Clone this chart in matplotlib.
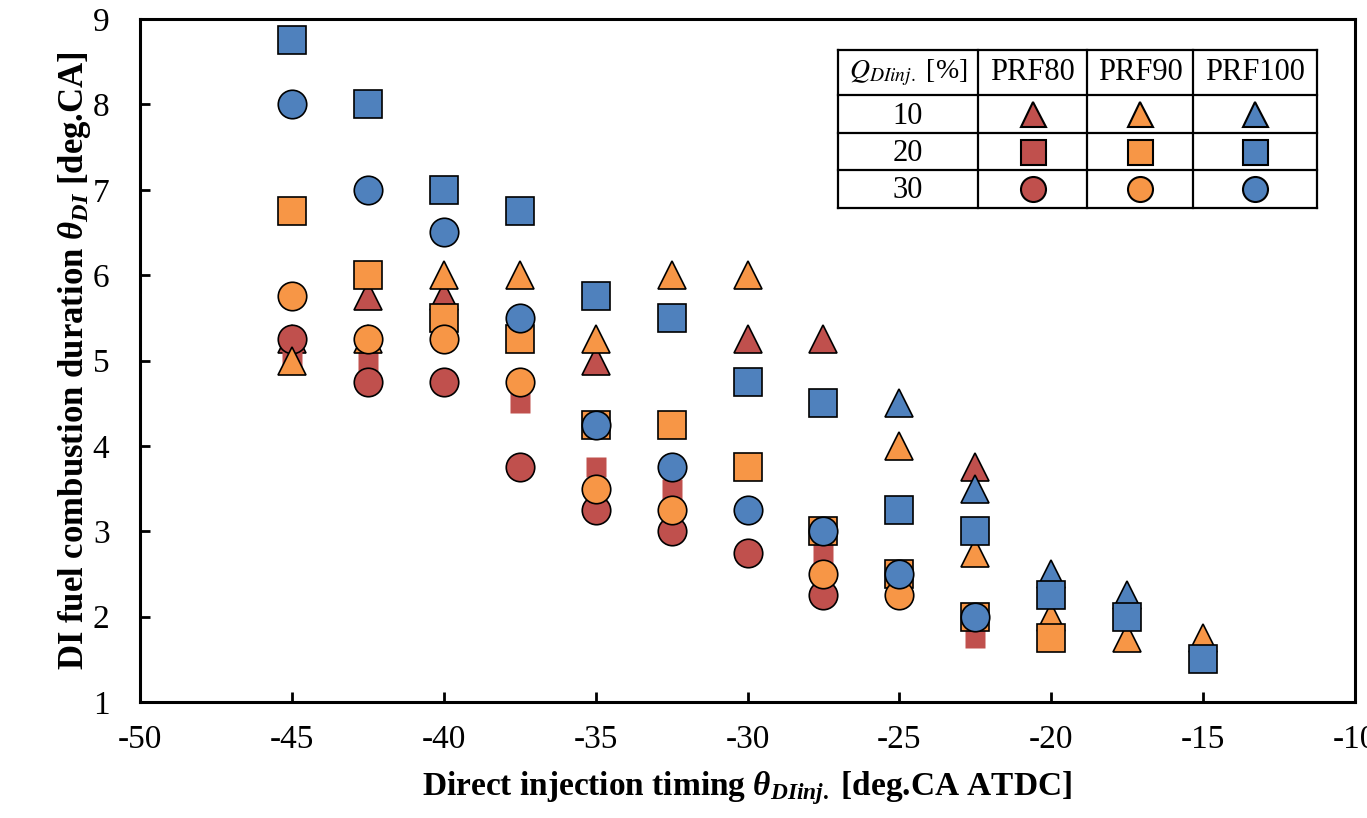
import matplotlib
matplotlib.use('Agg')
import matplotlib.pyplot as plt

plt.rcParams['font.family'] = 'Liberation Serif'
plt.rcParams['axes.unicode_minus'] = False
plt.rcParams['mathtext.fontset'] = 'custom'
plt.rcParams['mathtext.rm'] = 'Liberation Serif:bold'
plt.rcParams['mathtext.it'] = 'Liberation Serif:bold:italic'
plt.rcParams['mathtext.bf'] = 'Liberation Serif:bold'

# PRF80 (red)
x_prf80_q10 = [-45, -42.5, -40, -35, -30, -27.5, -22.5]
y_prf80_q10 = [5.25, 5.75, 5.75, 5.0, 5.25, 5.25, 3.75]
x_prf80_q20 = [-45, -42.5, -37.5, -35, -32.5, -27.5, -22.5]
y_prf80_q20 = [5.0, 5.0, 4.5, 3.75, 3.5, 2.75, 1.75]
x_prf80_q30 = [-45, -42.5, -40, -37.5, -35, -32.5, -30, -27.5]
y_prf80_q30 = [5.25, 4.75, 4.75, 3.75, 3.25, 3.0, 2.75, 2.25]

# PRF90 (orange)
x_prf90_q10 = [-45, -42.5, -40, -37.5, -35, -32.5, -30, -25, -22.5, -20, -17.5, -15]
y_prf90_q10 = [5.0, 5.25, 6.0, 6.0, 5.25, 6.0, 6.0, 4.0, 2.75, 2.0, 1.75, 1.75]
x_prf90_q20 = [-45, -42.5, -40, -37.5, -35, -32.5, -30, -27.5, -25, -22.5, -20]
y_prf90_q20 = [6.75, 6.0, 5.5, 5.25, 4.25, 4.25, 3.75, 3.0, 2.5, 2.0, 1.75]
x_prf90_q30 = [-45, -42.5, -40, -37.5, -35, -32.5, -27.5, -25]
y_prf90_q30 = [5.75, 5.25, 5.25, 4.75, 3.5, 3.25, 2.5, 2.25]

# PRF100 (blue)
x_prf100_q10 = [-25, -22.5, -20, -17.5]
y_prf100_q10 = [4.5, 3.5, 2.5, 2.25]
x_prf100_q20 = [-45, -42.5, -40, -37.5, -35, -32.5, -30, -27.5, -25, -22.5, -20, -17.5, -15]
y_prf100_q20 = [8.75, 8.0, 7.0, 6.75, 5.75, 5.5, 4.75, 4.5, 3.25, 3.0, 2.25, 2.0, 1.5]
x_prf100_q30 = [-45, -42.5, -40, -37.5, -35, -32.5, -30, -27.5, -25, -22.5]
y_prf100_q30 = [8.0, 7.0, 6.5, 5.5, 4.25, 3.75, 3.25, 3.0, 2.5, 2.0]

fuels = ['PRF80', 'PRF90', 'PRF100']
q_levels = ['10', '20', '30']
colors = {'PRF80': '#C0504D', 'PRF90': '#F79646', 'PRF100': '#4F81BD'}
markers = {'10': '^', '20': 's', '30': 'o'}

series = [
    ('PRF80', '10', x_prf80_q10, y_prf80_q10),
    ('PRF80', '20', x_prf80_q20, y_prf80_q20),
    ('PRF80', '30', x_prf80_q30, y_prf80_q30),
    ('PRF90', '10', x_prf90_q10, y_prf90_q10),
    ('PRF90', '20', x_prf90_q20, y_prf90_q20),
    ('PRF90', '30', x_prf90_q30, y_prf90_q30),
    ('PRF100', '10', x_prf100_q10, y_prf100_q10),
    ('PRF100', '20', x_prf100_q20, y_prf100_q20),
    ('PRF100', '30', x_prf100_q30, y_prf100_q30),
]

W, H = 1367, 818
fig = plt.figure(figsize=(W / 100, H / 100), dpi=100)
ax = fig.add_axes([140 / W, (H - 702) / H, (1355 - 140) / W, (702 - 19) / H])

for fuel, q, xs, ys in series:
    if fuel == 'PRF80' and q == '20':
        # red squares are drawn smaller and without outline
        ax.plot(xs, ys, ls='none', marker='s', ms=15, mfc=colors[fuel], mec='none')
    else:
        ax.plot(xs, ys, ls='none', marker=markers[q], ms=20.5, mfc=colors[fuel],
                mec='black', mew=1.2)

ax.set_xlim(-50, -10)
ax.set_ylim(1, 9)
ax.set_xticks(range(-50, -9, 5))
ax.set_yticks(range(1, 10))
ax.tick_params(direction='in', length=7, width=2, labelsize=24, top=False, right=False)
ax.tick_params(axis='x', pad=16)
ax.tick_params(axis='y', pad=22)
for sp in ax.spines.values():
    sp.set_linewidth(2.2)

ax.set_xlabel(r'Direct injection timing $\theta_{DIinj.}$ [deg.CA ATDC]', fontsize=24,
              fontweight='bold', labelpad=10)
ax.set_ylabel(r'DI fuel combustion duration $\theta_{DI}$ [deg.CA]', fontsize=25,
              fontweight='bold', labelpad=0)

# legend table
x_lines = [838, 978, 1087, 1193, 1317]
y_lines = [50, 95, 133, 170, 208]
lg = fig.add_axes([x_lines[0] / W, (H - y_lines[-1]) / H,
                   (x_lines[-1] - x_lines[0]) / W, (y_lines[-1] - y_lines[0]) / H])
lg.set_xlim(x_lines[0], x_lines[-1])
lg.set_ylim(y_lines[-1], y_lines[0])
lg.axis('off')
for xv in x_lines:
    lg.plot([xv, xv], [y_lines[0], y_lines[-1]], color='black', lw=1.6, clip_on=False)
for yv in y_lines:
    lg.plot([x_lines[0], x_lines[-1]], [yv, yv], color='black', lw=1.6, clip_on=False)

xc = [(x_lines[i] + x_lines[i + 1]) / 2 for i in range(4)]
yc = [(y_lines[i] + y_lines[i + 1]) / 2 for i in range(4)]
lg.text(xc[0], yc[0], r'$Q_{DIinj.}$ [%]', ha='center', va='center', fontsize=20,
        math_fontfamily='stix')
for j, fuel in enumerate(fuels):
    lg.text(xc[j + 1], yc[0], fuel, ha='center', va='center', fontsize=22)
for i, q in enumerate(q_levels):
    lg.text(xc[0], yc[i + 1] + 2, q, ha='center', va='center', fontsize=22)
    for j, fuel in enumerate(fuels):
        lg.plot(xc[j + 1], yc[i + 1], marker=markers[q], ms=18, mfc=colors[fuel],
                mec='black', mew=1.5, ls='none')

fig.savefig('out.png', dpi=100)
